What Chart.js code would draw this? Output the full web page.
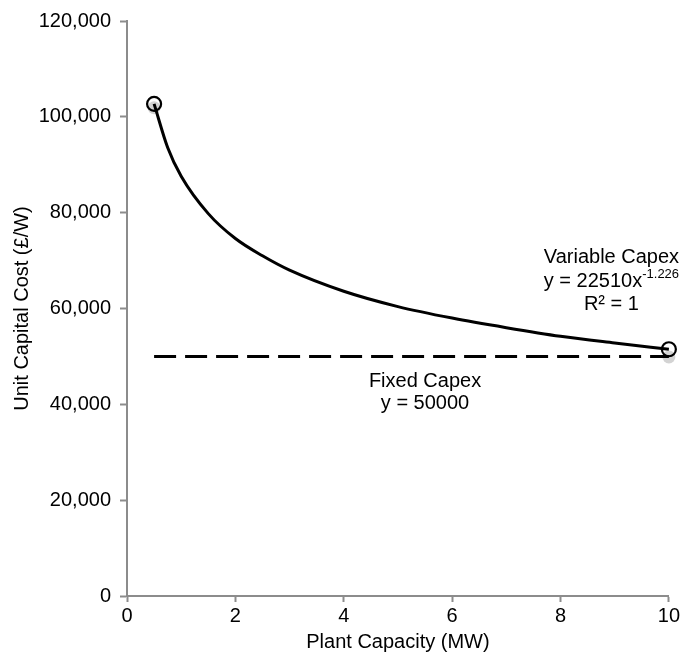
<!DOCTYPE html>
<html>
<head>
<meta charset="utf-8">
<script src="https://cdn.jsdelivr.net/npm/chart.js@4/dist/chart.umd.min.js"></script>
<style>
    body { margin: 0; background: #ffffff; }
    #graphique { display: block; }
</style>
</head>
<body>
<canvas id="graphique" width="682" height="662"></canvas>
<script>
// Courbe de tendance du coût variable (lue point par point)
const capacites = [0.5, 0.75, 1, 1.5, 2, 2.5, 3, 4, 5, 6, 7, 8, 9, 10];
const coutsVariables = [102700, 93600, 87600, 79800, 74600, 71000, 68000, 63600, 60400, 58000, 56000, 54200, 52800, 51500];

// Points mesurés (cercles) et points gris
const pointsX = [0.5, 10];
const pointsVariables = [102700, 51500];
const pointsGris = [101900, 49900];

// Coût fixe
const fixeX = [0.5, 10];
const fixeY = [50000, 50000];

const xTicks = [0, 2, 4, 6, 8, 10];
const yTicks = [0, 20000, 40000, 60000, 80000, 100000, 120000];

const police = "'Liberation Sans', Arial, sans-serif";
const taille = 20;
const gris = "#8c8c8c";

function versPoints(xs, ys) {
    return xs.map((x, i) => ({ x: x, y: ys[i] }));
}

// Textes des équations posés dans le graphique
const etiquettes = {
    id: "etiquettes",
    afterDatasetsDraw(chart) {
        const ctx = chart.ctx;
        const sx = chart.scales.x;
        const sy = chart.scales.y;
        ctx.save();
        ctx.fillStyle = "#000000";
        ctx.textBaseline = "middle";
        ctx.textAlign = "center";
        ctx.font = taille + "px " + police;

        const cxVar = sx.getPixelForValue(8.94);
        ctx.fillText("Variable Capex", cxVar, sy.getPixelForValue(70600));
        // équation avec exposant
        const base = "y = 22510x";
        const expo = "-1.226";
        ctx.font = taille + "px " + police;
        const lb = ctx.measureText(base).width;
        ctx.font = "13px " + police;
        const le = ctx.measureText(expo).width;
        const yEq = sy.getPixelForValue(65700);
        const debut = cxVar - (lb + le) / 2;
        ctx.textAlign = "left";
        ctx.font = taille + "px " + police;
        ctx.fillText(base, debut, yEq);
        ctx.font = "13px " + police;
        ctx.fillText(expo, debut + lb, yEq - 7);
        ctx.textAlign = "center";
        ctx.font = taille + "px " + police;
        ctx.fillText("R² = 1", cxVar, sy.getPixelForValue(60900));

        const cxFixe = sx.getPixelForValue(5.5);
        ctx.fillText("Fixed Capex", cxFixe, sy.getPixelForValue(44700));
        ctx.fillText("y = 50000", cxFixe, sy.getPixelForValue(40100));
        ctx.restore();
    }
};

const data = {
    datasets: [
        {
            label: "Points gris",
            data: versPoints(pointsX, pointsGris),
            showLine: false,
            clip: false,
            pointRadius: 6.5,
            pointBackgroundColor: "rgba(175, 175, 175, 0.55)",
            pointBorderWidth: 0,
            order: 4
        },
        {
            label: "Fixed Capex",
            data: versPoints(fixeX, fixeY),
            showLine: true,
            clip: false,
            borderColor: "#000000",
            borderWidth: 3,
            borderDash: [22, 9],
            pointRadius: 0,
            order: 3
        },
        {
            label: "Variable Capex (tendance)",
            data: versPoints(capacites, coutsVariables),
            showLine: true,
            clip: false,
            borderColor: "#000000",
            borderWidth: 3,
            cubicInterpolationMode: "monotone",
            pointRadius: 0,
            order: 2
        },
        {
            label: "Variable Capex",
            data: versPoints(pointsX, pointsVariables),
            showLine: false,
            clip: false,
            pointRadius: 7,
            pointBackgroundColor: "rgba(255, 255, 255, 0)",
            pointBorderColor: "#000000",
            pointBorderWidth: 2.2,
            order: 1
        }
    ]
};

const config = {
    type: "scatter",
    data: data,
    plugins: [etiquettes],
    options: {
        responsive: false,
        animation: false,
        layout: { padding: { top: 20, right: 12, left: 0, bottom: 8 } },
        plugins: {
            legend: { display: false },
            tooltip: { enabled: false }
        },
        scales: {
            x: {
                type: "linear",
                min: 0,
                max: 10,
                afterBuildTicks: (s) => { s.ticks = xTicks.map(v => ({ value: v })); },
                afterFit: (s) => { s.height = 58; },
                border: { color: gris, width: 2 },
                grid: { drawOnChartArea: false, tickLength: 6, color: gris, tickWidth: 2 },
                ticks: { color: "#000000", font: { family: police, size: taille }, padding: 2 },
                title: {
                    display: true,
                    text: "Plant Capacity (MW)",
                    color: "#000000",
                    font: { family: police, size: taille },
                    padding: { top: 4, bottom: 0 }
                }
            },
            y: {
                type: "linear",
                min: 0,
                max: 120000,
                afterBuildTicks: (s) => { s.ticks = yTicks.map(v => ({ value: v })); },
                afterFit: (s) => { s.width = 127; },
                border: { color: gris, width: 2 },
                grid: { drawOnChartArea: false, tickLength: 7, color: gris, tickWidth: 2 },
                ticks: {
                    color: "#000000",
                    font: { family: police, size: taille },
                    padding: 9,
                    callback: (v) => v.toLocaleString("en-US")
                },
                title: {
                    display: true,
                    text: "Unit Capital Cost (£/W)",
                    color: "#000000",
                    font: { family: police, size: taille },
                    padding: { top: 10, bottom: 0 }
                }
            }
        }
    }
};

const graphique = new Chart(document.getElementById("graphique"), config);
</script>
</body>
</html>
